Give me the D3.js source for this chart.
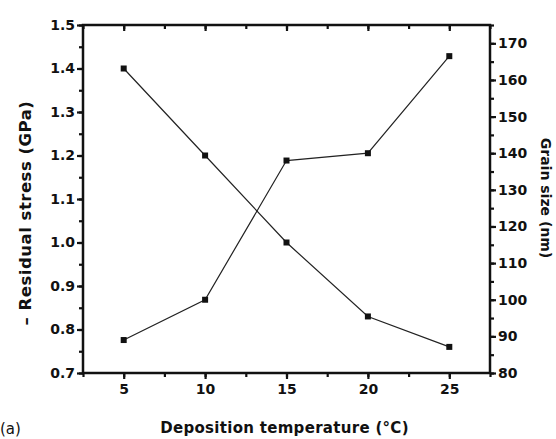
<!DOCTYPE html>
<html><head><meta charset="utf-8">
<script src="https://cdn.jsdelivr.net/npm/d3@7"></script>
<style>
body{margin:0;background:#fff;}
svg text{font-family:"DejaVu Sans",sans-serif;font-weight:bold;fill:#111;}
</style></head>
<body><svg id="c" width="556" height="439"></svg>
<script>
const temperatures = [5, 10, 15, 20, 25];
const residualStress = [1.40, 1.20, 1.00, 0.83, 0.76];
const grainSize = [89, 100, 138, 140, 166.5];
const xTicks = [5, 10, 15, 20, 25];
const leftTicks = [0.7, 0.8, 0.9, 1.0, 1.1, 1.2, 1.3, 1.4, 1.5];
const rightTicks = [80, 90, 100, 110, 120, 130, 140, 150, 160, 170];

const svg = d3.select("#c");
const L = 83, R = 490, T = 25, B = 373;
const x = d3.scaleLinear().domain([2.5, 27.5]).range([L, R]);
const yL = d3.scaleLinear().domain([0.7, 1.5]).range([B, T]);
const yR = d3.scaleLinear().domain([80, 175]).range([B, T]);

const axisColor = "#111";
function styleAxis(g){
  g.select(".domain").remove();
  g.selectAll(".tick line").attr("stroke", axisColor).attr("stroke-width", 2.2);
  g.selectAll(".tick text").style("font-size", "14px");
}
const xMinor = d3.range(2.5, 27.6, 2.5);
const lMinor = d3.range(0.7, 1.501, 0.05);
const rMinor = d3.range(80, 175.1, 5);

// bottom
svg.append("g").attr("transform", `translate(0,${B})`)
  .call(d3.axisBottom(x).tickValues(xMinor).tickSize(4).tickFormat(""))
  .call(styleAxis);
svg.append("g").attr("transform", `translate(0,${B})`)
  .call(d3.axisBottom(x).tickValues(xTicks).tickSize(6).tickPadding(5).tickFormat(d3.format("d")))
  .call(styleAxis);
// top (inward)
svg.append("g").attr("transform", `translate(0,${T})`)
  .call(d3.axisBottom(x).tickValues(xMinor).tickSize(4).tickFormat(""))
  .call(styleAxis);
svg.append("g").attr("transform", `translate(0,${T})`)
  .call(d3.axisBottom(x).tickValues(xTicks).tickSize(6).tickFormat(""))
  .call(styleAxis);
// left
svg.append("g").attr("transform", `translate(${L},0)`)
  .call(d3.axisLeft(yL).tickValues(lMinor).tickSize(4).tickFormat(""))
  .call(styleAxis);
svg.append("g").attr("transform", `translate(${L},0)`)
  .call(d3.axisLeft(yL).tickValues(leftTicks).tickSize(6).tickPadding(2).tickFormat(d3.format(".1f")))
  .call(styleAxis);
// right
svg.append("g").attr("transform", `translate(${R},0)`)
  .call(d3.axisRight(yR).tickValues(rMinor).tickSize(4).tickFormat(""))
  .call(styleAxis);
svg.append("g").attr("transform", `translate(${R},0)`)
  .call(d3.axisRight(yR).tickValues(rightTicks).tickSize(6).tickPadding(2).tickFormat(d3.format("d")))
  .call(styleAxis);

// frame
svg.append("rect").attr("x", L).attr("y", T).attr("width", R - L).attr("height", B - T)
  .attr("fill", "none").attr("stroke", axisColor).attr("stroke-width", 2.5);

// series
const stressData = temperatures.map((t, i) => [t, residualStress[i]]);
const grainData = temperatures.map((t, i) => [t, grainSize[i]]);
svg.append("path").datum(stressData)
  .attr("d", d3.line().x(d => x(d[0])).y(d => yL(d[1])))
  .attr("fill", "none").attr("stroke", "#222").attr("stroke-width", 1.2);
svg.append("path").datum(grainData)
  .attr("d", d3.line().x(d => x(d[0])).y(d => yR(d[1])))
  .attr("fill", "none").attr("stroke", "#222").attr("stroke-width", 1.2);
const ms = 6;
svg.selectAll(".ms").data(stressData).join("rect")
  .attr("x", d => x(d[0]) - ms/2).attr("y", d => yL(d[1]) - ms/2)
  .attr("width", ms).attr("height", ms).attr("fill", "#111");
svg.selectAll(".mg").data(grainData).join("rect")
  .attr("x", d => x(d[0]) - ms/2).attr("y", d => yR(d[1]) - ms/2)
  .attr("width", ms).attr("height", ms).attr("fill", "#111");

// titles
svg.append("text").attr("x", (L + R) / 2 - 2).attr("y", 433).attr("text-anchor", "middle")
  .style("font-size", "15px").style("letter-spacing", "0.3px").text("Deposition temperature (°C)");
svg.append("text").attr("transform", `translate(31,${213}) rotate(-90)`).attr("text-anchor", "middle")
  .style("font-size", "16.5px").style("letter-spacing", "0.5px").text("– Residual stress (GPa)");
svg.append("text").attr("transform", `translate(541,${198}) rotate(90)`).attr("text-anchor", "middle")
  .style("font-size", "14px").text("Grain size (nm)");
svg.append("text").attr("x", 0).attr("y", 434)
  .style("font-size", "15px").style("font-weight", "normal").text("(a)");
</script></body></html>
